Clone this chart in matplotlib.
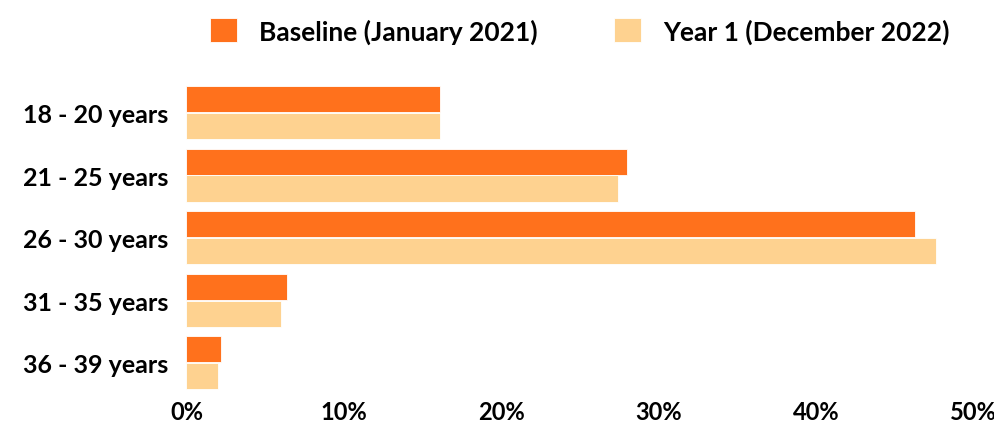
import numpy as np
import matplotlib.pyplot as plt
from matplotlib.ticker import FuncFormatter

plt.rcParams['font.family'] = ['Lato', 'DejaVu Sans']
plt.rcParams['font.weight'] = 'bold'

age_groups = ['18 - 20 years', '21 - 25 years', '26 - 30 years', '31 - 35 years', '36 - 39 years']
baseline = [16.1, 28.0, 46.3, 6.4, 2.2]
year1 = [16.1, 27.4, 47.6, 6.0, 2.0]
series_names = ['Baseline (January 2021)', 'Year 1 (December 2022)']
colors = ['#FF711C', '#FED290']

fig = plt.figure(figsize=(9.95, 4.27), dpi=100)
ax = fig.add_axes([0.1874, 0.075, 0.791, 0.732])

y = np.arange(len(age_groups))
h = 0.42
ax.barh(y - h / 2 - 0.005, baseline, height=h, color=colors[0], edgecolor='white', linewidth=0.6, label=series_names[0])
ax.barh(y + h / 2 + 0.005, year1, height=h, color=colors[1], edgecolor='white', linewidth=0.6, label=series_names[1])

ax.set_ylim(len(age_groups) - 0.5, -0.5)
ax.set_xlim(0, 50)
ax.set_yticks(y)
ax.set_yticklabels(age_groups, fontsize=18, fontweight='bold')
ax.set_xticks([0, 10, 20, 30, 40, 50])
ax.xaxis.set_major_formatter(FuncFormatter(lambda v, p: f'{v:.0f}%'))
for lbl in ax.get_xticklabels():
    lbl.set_fontsize(17)
    lbl.set_fontweight('bold')
ax.tick_params(axis='y', length=0, pad=13)
ax.tick_params(axis='x', length=0, pad=4)
for s in ax.spines.values():
    s.set_visible(False)

ax.legend(loc='lower center', bbox_to_anchor=(0.5, 1.045), ncol=2, frameon=False,
          handlelength=1.0, handleheight=1.0, columnspacing=2.9,
          handletextpad=0.85, prop={'weight': 'bold', 'size': 19})

fig.savefig('out.png', dpi=100)
